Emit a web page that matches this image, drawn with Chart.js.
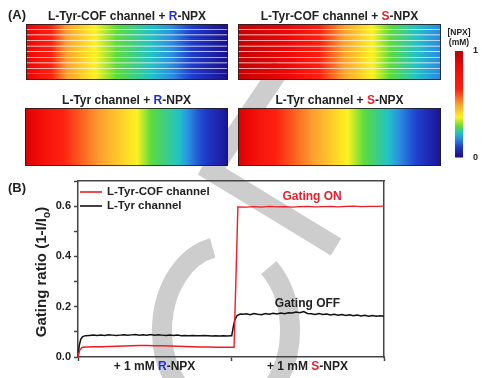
<!DOCTYPE html>
<html>
<head>
<meta charset="utf-8">
<script src="https://cdn.jsdelivr.net/npm/chart.js@4.4.1/dist/chart.umd.min.js"></script>
<style>
  html, body { margin: 0; padding: 0; background: #fff; }
  #page { position: relative; width: 482px; height: 378px; overflow: hidden; }
  canvas { position: absolute; }
</style>
</head>
<body>
<div id="page">
  <canvas id="gating" width="482" height="378" style="left:0;top:0"></canvas>
  <canvas id="cofR" width="202" height="72" style="left:26px;top:8px"></canvas>
  <canvas id="cofS" width="203" height="72" style="left:238px;top:8px"></canvas>
  <canvas id="tyrR" width="203" height="74" style="left:25px;top:92px"></canvas>
  <canvas id="tyrS" width="203" height="74" style="left:238px;top:92px"></canvas>
  <canvas id="scalebar" width="42" height="141" style="left:440px;top:24px"></canvas>
</div>
<script>
// ---- data ----

// panel A: [NPX] along each channel (position 0..1 -> concentration in mM)
const cofRPos  = [0, 0.08, 0.2, 0.34, 0.45, 0.62, 0.72, 0.82, 1];
const cofRConc = [0.9, 0.72, 0.5, 0.38, 0.29, 0.23, 0.18, 0.1, 0.01];
const cofSPos  = [0, 0.25, 0.4, 0.52, 0.66, 0.75, 0.88, 1];
const cofSConc = [0.97, 0.85, 0.64, 0.5, 0.38, 0.29, 0.23, 0.17];
const tyrRPos  = [0, 0.16, 0.37, 0.55, 0.62, 0.76, 0.86, 1];
const tyrRConc = [0.93, 0.66, 0.5, 0.38, 0.29, 0.23, 0.12, 0.02];
const tyrSPos  = [0, 0.16, 0.37, 0.54, 0.62, 0.74, 0.86, 1];
const tyrSConc = [0.93, 0.66, 0.5, 0.38, 0.29, 0.23, 0.12, 0.02];
const cofLanes = 10;
const scaleTicks = [0, 1];

// panel B: gating ratio vs time (0-1 = R-NPX added, 1-2 = S-NPX added)
const cofTime  = [0, 0.01, 0.025, 0.05, 0.1, 0.15, 0.2, 0.25, 0.3, 0.35, 0.4, 0.45, 0.5, 0.55, 0.6, 0.65, 0.7, 0.75, 0.8, 0.85, 0.9, 0.95, 1.02,
                  1.045, 1.1, 1.15, 1.2, 1.25, 1.3, 1.35, 1.4, 1.45, 1.5, 1.55, 1.6, 1.65, 1.7, 1.75, 1.8, 1.85, 1.9, 1.95, 2.0];
const cofRatio = [0, 0.025, 0.038, 0.040, 0.041, 0.041, 0.042, 0.043, 0.044, 0.045, 0.046, 0.046, 0.045, 0.045, 0.044, 0.043, 0.042, 0.041, 0.040, 0.040, 0.039, 0.039, 0.039,
                  0.597, 0.596, 0.598, 0.596, 0.599, 0.597, 0.598, 0.596, 0.598, 0.599, 0.597, 0.598, 0.599, 0.597, 0.599, 0.600, 0.598, 0.599, 0.599, 0.600];
const tyrTime  = [0, 0.008, 0.018, 0.03, 0.05,
                  0.075, 0.1, 0.125, 0.15, 0.175, 0.2, 0.225, 0.25, 0.275, 0.3, 0.325, 0.35, 0.375, 0.4, 0.425, 0.45, 0.475, 0.5, 0.525,
                  0.55, 0.575, 0.6, 0.625, 0.65, 0.675, 0.7, 0.725, 0.75, 0.775, 0.8, 0.825, 0.85, 0.875, 0.9, 0.925, 0.95, 0.975, 1.0,
                  1.005, 1.015, 1.025, 1.04, 1.06, 1.08,
                  1.1, 1.125, 1.15, 1.175, 1.2, 1.225, 1.25, 1.275, 1.3, 1.325, 1.35, 1.375, 1.4, 1.425, 1.45, 1.475, 1.5, 1.525, 1.55,
                  1.575, 1.6, 1.625, 1.65, 1.675, 1.7, 1.725, 1.75, 1.775, 1.8, 1.825, 1.85, 1.875, 1.9, 1.925, 1.95, 1.975, 2.0];
const tyrRatio = [0, 0.045, 0.07, 0.081, 0.085,
                  0.086, 0.087, 0.086, 0.087, 0.086, 0.088, 0.087, 0.086, 0.087, 0.088, 0.087, 0.088, 0.089, 0.087, 0.088, 0.087, 0.089, 0.087, 0.088,
                  0.087, 0.086, 0.087, 0.086, 0.087, 0.085, 0.086, 0.085, 0.086, 0.085, 0.085, 0.086, 0.085, 0.084, 0.085, 0.084, 0.085, 0.084, 0.085,
                  0.086, 0.12, 0.148, 0.165, 0.171, 0.170,
                  0.172, 0.168, 0.173, 0.170, 0.168, 0.173, 0.170, 0.174, 0.171, 0.175, 0.172, 0.176, 0.175, 0.179, 0.176, 0.181, 0.173, 0.172, 0.169,
                  0.173, 0.169, 0.171, 0.167, 0.170, 0.166, 0.169, 0.165, 0.168, 0.164, 0.167, 0.163, 0.166, 0.162, 0.165, 0.162, 0.164, 0.162];
const xTickValues = [0, 0.5, 1, 1.5, 2];
const segmentCenters = [0.5, 1.5];
const yLabelled = [0, 0.2, 0.4, 0.6];

// ---- styling ----
const FONT = '"Liberation Sans", Arial, sans-serif';
const INK = '#222';
const AXIS = '#444';
const BLUE = '#1f2fe0';
const RED = '#e8202a';
Chart.defaults.font.family = FONT;

// jet-like colormap used by the figure (value 0..1)
const cmap = [
  [0.00, [26, 10, 133]], [0.10, [31, 60, 204]], [0.18, [43, 143, 224]], [0.23, [34, 194, 200]],
  [0.29, [92, 220, 60]], [0.38, [255, 242, 34]], [0.50, [255, 160, 48]], [0.64, [255, 32, 16]],
  [0.85, [238, 8, 8]], [1.00, [184, 0, 0]]
];

function colormap(v) {
  v = Math.max(0, Math.min(1, v));
  for (let i = 1; i < cmap.length; i++) {
    if (v <= cmap[i][0]) {
      const [a, ca] = cmap[i - 1], [b, cb] = cmap[i];
      const t = (v - a) / (b - a);
      const c = ca.map((x, k) => Math.round(x + (cb[k] - x) * t));
      return `rgb(${c[0]},${c[1]},${c[2]})`;
    }
  }
  return 'rgb(184,0,0)';
}

// concentration at position t along the channel (between read points)
function concAt(pos, conc, t) {
  for (let i = 1; i < pos.length; i++) {
    if (t <= pos[i]) return conc[i - 1] + (conc[i] - conc[i - 1]) * (t - pos[i - 1]) / (pos[i] - pos[i - 1]);
  }
  return conc[conc.length - 1];
}

function drawRich(ctx, parts, x, y, size) {
  ctx.save();
  ctx.font = `bold ${size}px ${FONT}`;
  ctx.textBaseline = 'middle';
  ctx.textAlign = 'left';
  const total = parts.reduce((w, p) => w + ctx.measureText(p[0]).width, 0);
  let cx = x - total / 2;
  parts.forEach(([text, color]) => {
    ctx.fillStyle = color;
    ctx.fillText(text, cx, y);
    cx += ctx.measureText(text).width;
  });
  ctx.restore();
}

/**
 * one channel picture of panel A: horizontal floating bar(s) filled
 * with the concentration profile mapped through the colormap
 */
function channelChart(id, pos, conc, lanes, titleParts) {
  const rows = Array.from({ length: lanes }, (_, i) => 'lane ' + (i + 1));
  const fill = c => {
    const chart = c.chart;
    if (!chart.chartArea) return null;
    const xs = chart.scales.x;
    const g = chart.ctx.createLinearGradient(xs.getPixelForValue(0), 0, xs.getPixelForValue(1), 0);
    for (let i = 0; i <= 80; i++) g.addColorStop(i / 80, colormap(concAt(pos, conc, i / 80)));
    return g;
  };
  new Chart(document.getElementById(id), {
    type: 'bar',
    data: {
      labels: rows,
      datasets: [{
        data: rows.map(() => [0, 1]),
        backgroundColor: fill,
        borderColor: 'rgba(255,255,255,0.42)',
        borderWidth: c => c.dataIndex < lanes - 1 ? { top: 0, right: 0, bottom: 1, left: 0 } : 0,
        borderSkipped: false,
        barPercentage: 1,
        categoryPercentage: 1
      }]
    },
    options: {
      indexAxis: 'y',
      responsive: false,
      animation: false,
      layout: { padding: { top: 16 } },
      scales: { x: { display: false, min: 0, max: 1 }, y: { display: false } },
      plugins: { legend: { display: false }, tooltip: { enabled: false } }
    },
    plugins: [{
      id: 'frameTitle',
      afterDraw(chart) {
        const { ctx, chartArea: a } = chart;
        ctx.save();
        ctx.strokeStyle = 'rgba(30,30,30,0.85)';
        ctx.lineWidth = 1;
        ctx.strokeRect(a.left + 0.5, a.top + 0.5, a.right - a.left - 1, a.bottom - a.top - 1);
        ctx.restore();
        drawRich(ctx, titleParts, (a.left + a.right) / 2, a.top - 7.5, 12);
      }
    }]
  });
}

channelChart('cofR', cofRPos, cofRConc, cofLanes, [['L-Tyr-COF channel + ', INK], ['R', BLUE], ['-NPX', INK]]);
channelChart('cofS', cofSPos, cofSConc, cofLanes, [['L-Tyr-COF channel + ', INK], ['S', RED], ['-NPX', INK]]);
channelChart('tyrR', tyrRPos, tyrRConc, 1, [['L-Tyr channel + ', INK], ['R', BLUE], ['-NPX', INK]]);
channelChart('tyrS', tyrSPos, tyrSConc, 1, [['L-Tyr channel + ', INK], ['S', RED], ['-NPX', INK]]);

// colour scale bar
new Chart(document.getElementById('scalebar'), {
  type: 'bar',
  data: {
    labels: ['NPX'],
    datasets: [{
      data: [[0, 1]],
      backgroundColor: c => {
        const chart = c.chart;
        if (!chart.chartArea) return null;
        const ys = chart.scales.y;
        const g = chart.ctx.createLinearGradient(0, ys.getPixelForValue(0), 0, ys.getPixelForValue(1));
        for (let i = 0; i <= 50; i++) g.addColorStop(i / 50, colormap(i / 50));
        return g;
      },
      barPercentage: 1,
      categoryPercentage: 1
    }]
  },
  options: {
    responsive: false,
    animation: false,
    layout: { padding: { left: 15, top: 27, bottom: 7 } },
    scales: {
      x: { display: false },
      y: {
        position: 'right', min: 0, max: 1,
        afterBuildTicks: s => { s.ticks = scaleTicks.map(v => ({ value: v })); },
        afterFit: s => { s.width = 19; },
        grid: { display: false },
        border: { display: false },
        ticks: { padding: 2, color: INK, font: { size: 9, weight: 'bold' } }
      }
    },
    plugins: { legend: { display: false }, tooltip: { enabled: false } }
  },
  plugins: [{
    id: 'unitLabel',
    afterDraw(chart) {
      const { ctx, chartArea: a } = chart;
      const cx = (a.left + a.right) / 2;
      drawRich(ctx, [['[NPX]', INK]], cx, a.top - 18, 8.5);
      drawRich(ctx, [['(mM)', INK]], cx, a.top - 8, 8.5);
    }
  }]
});

// panel B
const decorations = {
  id: 'decorations',
  beforeDraw(chart) {
    // grey watermark behind everything
    const ctx = chart.ctx;
    ctx.save();
    ctx.strokeStyle = '#cdcdcd';
    ctx.lineWidth = 20;
    ctx.lineCap = 'butt';
    ctx.beginPath();
    ctx.moveTo(282, 66);
    ctx.lineTo(208, 176);
    ctx.moveTo(203, 166);
    ctx.lineTo(336, 247);
    ctx.stroke();
    ctx.beginPath();
    ctx.ellipse(226, 330, 64, 84, 0, Math.PI * 95 / 180, Math.PI * 258 / 180);
    ctx.stroke();
    ctx.beginPath();
    ctx.ellipse(226, 330, 64, 84, 0, -Math.PI * 48 / 180, Math.PI * 75 / 180);
    ctx.stroke();
    ctx.restore();
  },
  afterDraw(chart) {
    const { ctx, chartArea: a, scales: { x, y } } = chart;
    // panel letters
    ctx.save();
    ctx.font = `bold 13px ${FONT}`;
    ctx.fillStyle = INK;
    ctx.textBaseline = 'middle';
    ctx.fillText('(A)', 8, 15);
    ctx.fillText('(B)', 8, 188);
    ctx.restore();

    // legend inside the plot
    chart.data.datasets.forEach((ds, i) => {
      const ly = a.top + 11 + i * 14;
      ctx.save();
      ctx.strokeStyle = ds.borderColor;
      ctx.lineWidth = 1.6;
      ctx.beginPath();
      ctx.moveTo(a.left + 2, ly);
      ctx.lineTo(a.left + 24, ly);
      ctx.stroke();
      ctx.restore();
      ctx.save();
      ctx.font = `bold 11.5px ${FONT}`;
      ctx.fillStyle = INK;
      ctx.textBaseline = 'middle';
      ctx.fillText(ds.label, a.left + 29, ly);
      ctx.restore();
    });

    // annotations
    drawRich(ctx, [['Gating ON', RED]], x.getPixelForValue(1.53), y.getPixelForValue(0.636), 12);
    drawRich(ctx, [['Gating OFF', INK]], x.getPixelForValue(1.5), y.getPixelForValue(0.211), 12);

    // segment labels under the x axis
    const names = [['R', BLUE], ['S', RED]];
    segmentCenters.forEach((v, i) => {
      drawRich(ctx, [['+ 1 mM ', INK], names[i], ['-NPX', INK]], x.getPixelForValue(v), a.bottom + 9.5, 12);
    });

    // y title with subscript
    ctx.save();
    ctx.translate(42, (a.top + a.bottom) / 2 + 3);
    ctx.rotate(-Math.PI / 2);
    ctx.fillStyle = INK;
    ctx.textBaseline = 'middle';
    ctx.font = `bold 15px ${FONT}`;
    const main = 'Gating ratio (1-I/I';
    const wMain = ctx.measureText(main).width;
    ctx.font = `bold 10px ${FONT}`;
    const wSub = ctx.measureText('o').width;
    ctx.font = `bold 15px ${FONT}`;
    const wEnd = ctx.measureText(')').width;
    let sx = -(wMain + wSub + wEnd) / 2;
    ctx.fillText(main, sx, 0);
    sx += wMain;
    ctx.font = `bold 10px ${FONT}`;
    ctx.fillText('o', sx, 5);
    sx += wSub;
    ctx.font = `bold 15px ${FONT}`;
    ctx.fillText(')', sx, 0);
    ctx.restore();
  }
};

new Chart(document.getElementById('gating'), {
  type: 'line',
  data: {
    datasets: [
      {
        label: 'L-Tyr-COF channel',
        data: cofTime.map((t, i) => ({ x: t, y: cofRatio[i] })),
        borderColor: '#ee1c24',
        borderWidth: 1.4,
        pointRadius: 0,
        tension: 0
      },
      {
        label: 'L-Tyr channel',
        data: tyrTime.map((t, i) => ({ x: t, y: tyrRatio[i] })),
        borderColor: '#111111',
        borderWidth: 1.5,
        pointRadius: 0,
        tension: 0
      }
    ]
  },
  options: {
    responsive: false,
    animation: false,
    layout: { padding: 0 },
    scales: {
      x: {
        type: 'linear', min: 0, max: 2,
        afterBuildTicks: s => { s.ticks = xTickValues.map(v => ({ value: v })); },
        afterFit: s => { s.height = 21; },
        ticks: { callback: () => '' },
        grid: {
          drawOnChartArea: false, tickLength: 4, tickWidth: 1.5,
          tickColor: c => Number.isInteger(c.tick.value) ? AXIS : 'rgba(0,0,0,0)'
        },
        border: { color: AXIS, width: 1.5 }
      },
      y: {
        min: 0, max: 0.7,
        afterFit: s => { s.width = 78; },
        ticks: {
          stepSize: 0.1, padding: 3, color: INK,
          font: { size: 11, weight: 'bold' },
          callback: v => yLabelled.some(t => Math.abs(t - v) < 1e-6) ? v.toFixed(1) : ''
        },
        grid: { drawOnChartArea: false, tickLength: 4, tickWidth: 1.5, tickColor: AXIS },
        border: { color: AXIS, width: 1.5 }
      },
      x2: {
        type: 'linear', position: 'top',
        afterFit: s => { s.height = 181; },
        ticks: { display: false },
        grid: { drawOnChartArea: false, drawTicks: false },
        border: { color: AXIS, width: 1.5 }
      },
      y2: {
        type: 'linear', position: 'right',
        afterFit: s => { s.width = 98; },
        ticks: { display: false },
        grid: { drawOnChartArea: false, drawTicks: false },
        border: { color: AXIS, width: 1.5 }
      }
    },
    plugins: { legend: { display: false }, tooltip: { enabled: false } }
  },
  plugins: [decorations]
});
</script>
</body>
</html>
